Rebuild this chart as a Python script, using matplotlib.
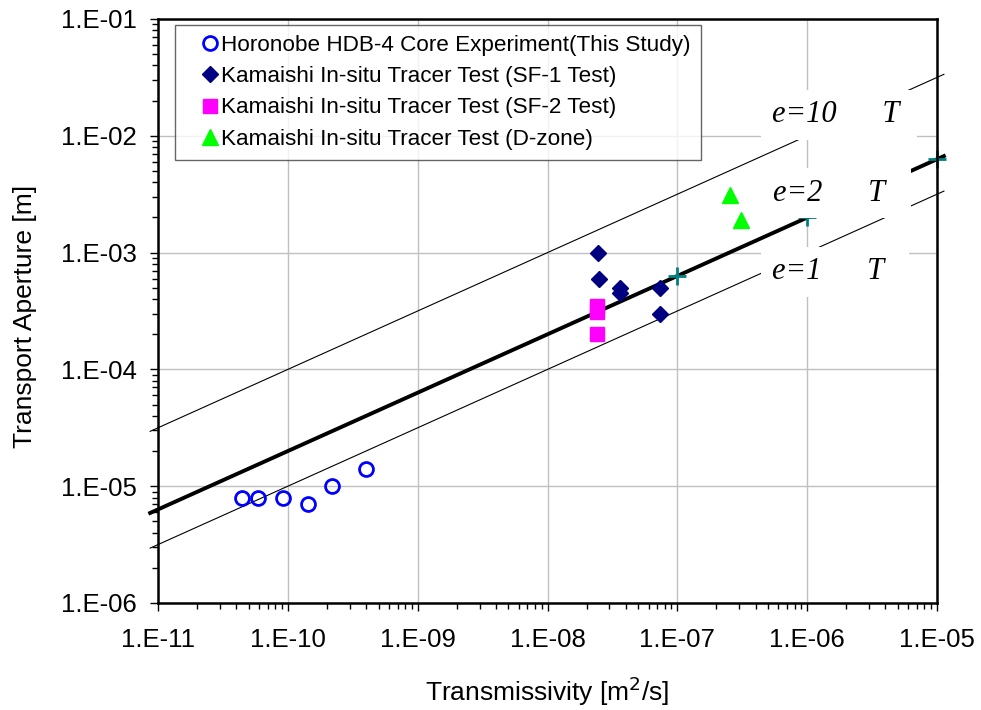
import matplotlib
matplotlib.use("Agg")
import matplotlib.pyplot as plt
import matplotlib.ticker as mticker
import numpy as np

# Horonobe HDB-4 core experiment (this study)
horo_T = [4.4e-11, 5.9e-11, 9.2e-11, 1.42e-10, 2.18e-10, 4.0e-10]
horo_a = [8.0e-6, 8.0e-6, 8.0e-6, 7.0e-6, 1.0e-5, 1.4e-5]

# Kamaishi SF-1
sf1_T = [2.47e-8, 2.5e-8, 3.63e-8, 3.63e-8, 7.4e-8, 7.4e-8]
sf1_a = [1.0e-3, 6.0e-4, 5.0e-4, 4.5e-4, 5.0e-4, 3.0e-4]

# Kamaishi SF-2
sf2_T = [2.4e-8, 2.4e-8, 2.4e-8]
sf2_a = [3.5e-4, 3.1e-4, 2.0e-4]

# Kamaishi D-zone
dz_T = [2.55e-7, 3.1e-7]
dz_a = [3.1e-3, 1.9e-3]

# reference lines  a = e*sqrt(T), end points
line_T = [8.7e-12, 1.13e-5]
e10_a = [2.95e-5, 3.36e-2]
e2_a = [5.9e-6, 6.7e-3]
e1_a = [2.95e-6, 3.36e-3]

# teal crosses on the e=2 line
cross_T = [1e-7, 1e-6, 1e-5]
cross_a = [6.3e-4, 2.0e-3, 6.3e-3]

x_ticks = [1e-11, 1e-10, 1e-9, 1e-8, 1e-7, 1e-6, 1e-5]
y_ticks = [1e-6, 1e-5, 1e-4, 1e-3, 1e-2, 1e-1]

legend_labels = ["Horonobe HDB-4 Core Experiment(This Study)",
                 "Kamaishi In-situ Tracer Test (SF-1 Test)",
                 "Kamaishi In-situ Tracer Test (SF-2 Test)",
                 "Kamaishi In-situ Tracer Test (D-zone)"]

plt.rcParams['font.family'] = ['Liberation Sans', 'DejaVu Sans']

fig = plt.figure(figsize=(9.81, 7.10), dpi=100)
ax = fig.add_axes([158/981, 1 - 603/710, 779/981, 584/710])
ax.set_xscale('log')
ax.set_yscale('log')
ax.set_xlim(1e-11, 1e-5)
ax.set_ylim(1e-6, 1e-1)

ax.grid(True, which='major', color='#c0c0c0', linewidth=1.0)
ax.set_axisbelow(True)

ax.plot(line_T, e10_a, color='black', lw=0.8, clip_on=False, zorder=2)
ax.plot(line_T, e2_a, color='black', lw=2.8, clip_on=False, zorder=2)
ax.plot(line_T, e1_a, color='black', lw=0.8, clip_on=False, zorder=2)
ax.plot(cross_T, cross_a, ls='none', marker='+', ms=13, mew=2,
        color='#008080', clip_on=False, zorder=2.5)

h1, = ax.plot(horo_T, horo_a, ls='none', marker='o', ms=10, mfc='none',
              mec='#0000ff', mew=2, zorder=4)
h2, = ax.plot(sf1_T, sf1_a, ls='none', marker='D', ms=8, color='#000080', zorder=4)
h3, = ax.plot(sf2_T, sf2_a, ls='none', marker='s', ms=10, color='#ff00ff', zorder=4)
h4, = ax.plot(dz_T, dz_a, ls='none', marker='^', ms=11, color='#00ff00', zorder=4)

box = dict(boxstyle='square,pad=0.35', facecolor='white', edgecolor='none')
lab_font = dict(family=['Liberation Serif', 'DejaVu Serif'], style='italic',
                fontsize=22, va='center', ha='left', transform=ax.transAxes,
                bbox=box, zorder=3)
ax.text(0.788, 0.836, "e=10      T ", **lab_font)
ax.text(0.790, 0.702, "e=2      T  ", **lab_font)
ax.text(0.788, 0.567, "e=1      T  ", **lab_font)

leg = ax.legend([h1, h2, h3, h4], legend_labels, loc='upper left',
                bbox_to_anchor=(175/981, 1 - 25/710), bbox_transform=fig.transFigure,
                fontsize=16.2, frameon=True, fancybox=False, handletextpad=-0.6,
                handlelength=2.2, labelspacing=0.45, borderpad=0.45, borderaxespad=0)
leg.get_frame().set_edgecolor('#404040')
leg.get_frame().set_linewidth(1.0)
leg.set_zorder(5)

fmt = mticker.FuncFormatter(lambda v, p: "1.E-%02d" % round(-np.log10(v)))
ax.xaxis.set_major_locator(mticker.FixedLocator(x_ticks))
ax.yaxis.set_major_locator(mticker.FixedLocator(y_ticks))
ax.xaxis.set_major_formatter(fmt)
ax.yaxis.set_major_formatter(fmt)
ax.xaxis.set_minor_locator(mticker.LogLocator(base=10, subs=np.arange(2, 10), numticks=20))
ax.yaxis.set_minor_locator(mticker.LogLocator(base=10, subs=np.arange(2, 10), numticks=20))
ax.xaxis.set_minor_formatter(mticker.NullFormatter())
ax.yaxis.set_minor_formatter(mticker.NullFormatter())

ax.tick_params(which='major', direction='out', length=6, width=1, labelsize=18.5)
ax.tick_params(which='minor', direction='out', length=4, width=1)
ax.tick_params(axis='x', which='major', pad=12)
ax.tick_params(axis='y', which='major', pad=9.5)
for s in ax.spines.values():
    s.set_linewidth(1.8)

ax.set_xlabel("Transmissivity [m$^2$/s]", fontsize=19, labelpad=16)
ax.set_ylabel("Transport Aperture [m]", fontsize=19)
ax.yaxis.set_label_coords(-0.155, 0.49)

fig.savefig("out.png", dpi=100)
